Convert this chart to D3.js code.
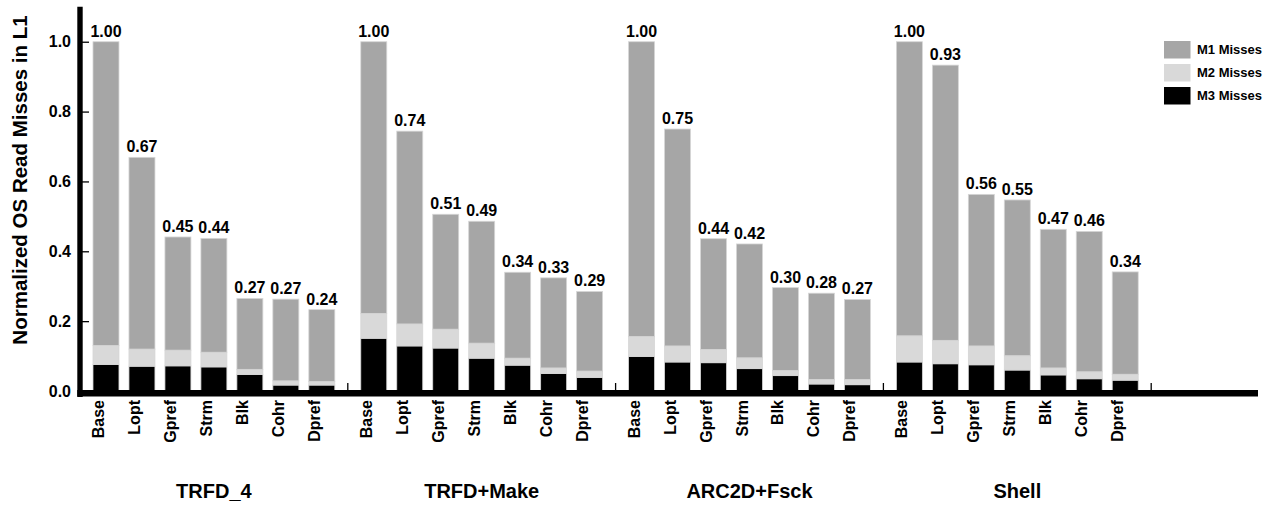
<!DOCTYPE html>
<html>
<head>
<meta charset="utf-8">
<script src="https://cdn.jsdelivr.net/npm/d3@7/dist/d3.min.js"></script>
<style>
  body { margin: 0; background: #fff; }
  text { font-family: 'Liberation Sans', Arial, sans-serif; font-weight: bold; fill: #000; }
</style>
</head>
<body>
<svg id="chart" width="1281" height="507"></svg>
<script>
// workloads and configurations
const groups = ['TRFD_4', 'TRFD+Make', 'ARC2D+Fsck', 'Shell'];
const configs = ['Base', 'Lopt', 'Gpref', 'Strm', 'Blk', 'Cohr', 'Dpref'];
const seriesNames = ['M1 Misses', 'M2 Misses', 'M3 Misses'];

// segment values, one row per workload (order of configs)
const m3Misses = [
  [0.076, 0.071, 0.072, 0.069, 0.047, 0.017, 0.017],
  [0.151, 0.129, 0.123, 0.094, 0.074, 0.050, 0.039],
  [0.099, 0.083, 0.081, 0.064, 0.044, 0.020, 0.018],
  [0.083, 0.078, 0.075, 0.060, 0.046, 0.035, 0.031]
];
const m2Misses = [
  [0.054, 0.049, 0.045, 0.042, 0.015, 0.012, 0.010],
  [0.071, 0.063, 0.054, 0.043, 0.020, 0.016, 0.018],
  [0.057, 0.046, 0.038, 0.031, 0.015, 0.013, 0.015],
  [0.075, 0.067, 0.054, 0.041, 0.020, 0.020, 0.017]
];
const m1Misses = [
  [0.870, 0.549, 0.324, 0.326, 0.203, 0.234, 0.206],
  [0.778, 0.552, 0.329, 0.349, 0.246, 0.258, 0.228],
  [0.844, 0.621, 0.317, 0.326, 0.237, 0.247, 0.229],
  [0.842, 0.788, 0.434, 0.446, 0.397, 0.402, 0.293]
];
// printed totals above the bars
const totalLabels = [
  ['1.00', '0.67', '0.45', '0.44', '0.27', '0.27', '0.24'],
  ['1.00', '0.74', '0.51', '0.49', '0.34', '0.33', '0.29'],
  ['1.00', '0.75', '0.44', '0.42', '0.30', '0.28', '0.27'],
  ['1.00', '0.93', '0.56', '0.55', '0.47', '0.46', '0.34']
];
const yTicks = [0, 0.2, 0.4, 0.6, 0.8, 1.0];

const colors = { m1: '#a6a6a6', m2: '#d9d9d9', m3: '#000000' };

const svg = d3.select('#chart');

const rows = [];
groups.forEach((g, gi) => {
  configs.forEach((c, ci) => {
    rows.push({
      group: g, config: c,
      m3: m3Misses[gi][ci], m2: m2Misses[gi][ci], m1: m1Misses[gi][ci],
      label: totalLabels[gi][ci]
    });
  });
});

const x0 = d3.scaleBand()
  .domain(groups)
  .range([80, 1151.2])
  .padding(0);

const x1 = d3.scaleBand()
  .domain(configs)
  .range([0, x0.bandwidth()])
  .paddingInner(10 / 36)
  .paddingOuter(13 / 36);

const y = d3.scaleLinear()
  .domain([0, 1.1])
  .range([391, 6.8]);

const stack = d3.stack().keys(['m3', 'm2', 'm1']);
const layers = stack(rows);

// stacked bars
svg.append('g')
  .selectAll('g')
  .data(layers)
  .join('g')
  .attr('fill', d => colors[d.key])
  .selectAll('rect')
  .data(d => d)
  .join('rect')
  .attr('x', d => x0(d.data.group) + x1(d.data.config))
  .attr('y', d => y(d[1]))
  .attr('width', x1.bandwidth())
  .attr('height', d => y(d[0]) - y(d[1]))
  .attr('stroke', '#d6d6d6')
  .attr('stroke-width', 0.8);

// totals above the bars
const topLayer = layers[layers.length - 1];
svg.append('g')
  .selectAll('text')
  .data(topLayer)
  .join('text')
  .attr('x', d => x0(d.data.group) + x1(d.data.config) + x1.bandwidth() / 2)
  .attr('y', d => y(d[1]) - 5)
  .attr('text-anchor', 'middle')
  .attr('font-size', 16)
  .text(d => d.data.label);

// y axis
const yAxis = svg.append('g')
  .attr('transform', 'translate(80,0)')
  .call(d3.axisLeft(y).tickValues(yTicks).tickFormat(d3.format('.1f')).tickSize(-9).tickPadding(9));
yAxis.select('.domain').remove();
yAxis.selectAll('line').attr('stroke', '#000').attr('stroke-width', 1.3);
yAxis.selectAll('text').attr('font-size', 16).style('font-family', "'Liberation Sans', Arial, sans-serif").style('font-weight', 'bold');

svg.append('line')
  .attr('x1', 80).attr('x2', 80)
  .attr('y1', 6.7).attr('y2', 397)
  .attr('stroke', '#000').attr('stroke-width', 5.4);

// x axis
svg.append('line')
  .attr('x1', 77.3).attr('x2', 1258)
  .attr('y1', 393.3).attr('y2', 393.3)
  .attr('stroke', '#000').attr('stroke-width', 6.6);

// group separator ticks
svg.append('g')
  .selectAll('line')
  .data(groups)
  .join('line')
  .attr('x1', d => x0(d) + x0.bandwidth())
  .attr('x2', d => x0(d) + x0.bandwidth())
  .attr('y1', 383).attr('y2', 391)
  .attr('stroke', '#000').attr('stroke-width', 1.3);

// config labels
svg.append('g')
  .selectAll('text')
  .data(rows)
  .join('text')
  .attr('transform', d => `translate(${x0(d.group) + x1(d.config) + x1.bandwidth() / 2 - 2},400) rotate(-90)`)
  .attr('text-anchor', 'end')
  .attr('font-size', 16)
  .text(d => d.config);

// group labels
svg.append('g')
  .selectAll('text')
  .data(groups)
  .join('text')
  .attr('x', d => x0(d) + x0.bandwidth() / 2)
  .attr('y', 498)
  .attr('text-anchor', 'middle')
  .attr('font-size', 20)
  .text(d => d);

// y axis title
svg.append('text')
  .attr('transform', 'translate(27,180) rotate(-90)')
  .attr('text-anchor', 'middle')
  .attr('font-size', 20.5)
  .text('Normalized OS Read Misses in L1');

// legend
const legendKeys = ['m1', 'm2', 'm3'];
const legend = svg.append('g').attr('transform', 'translate(1164,41)');
const item = legend.selectAll('g')
  .data(legendKeys)
  .join('g')
  .attr('transform', (d, i) => `translate(0,${i * 23})`);
item.append('rect')
  .attr('width', 26.5).attr('height', 17.5)
  .attr('fill', d => colors[d]);
item.append('text')
  .attr('x', 33).attr('y', 8.75)
  .attr('dy', '0.35em')
  .attr('font-size', 13)
  .text((d, i) => seriesNames[i]);
</script>
</body>
</html>
